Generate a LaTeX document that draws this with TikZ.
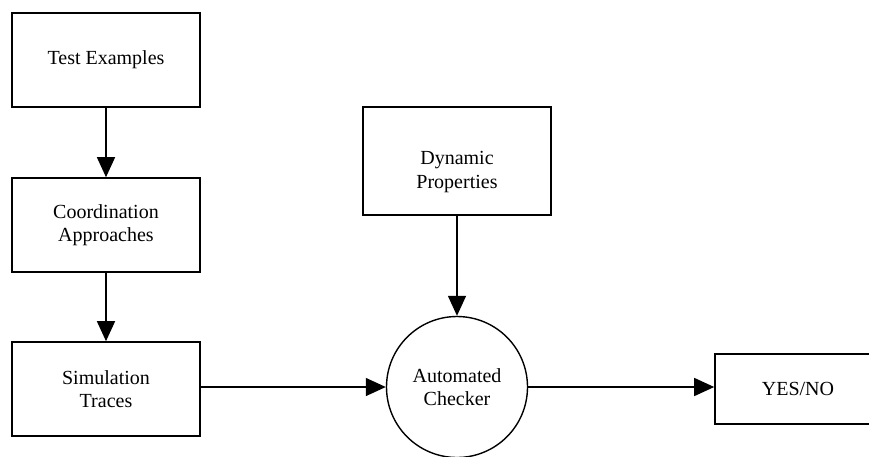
\documentclass[tikz,border=0pt]{standalone}
\usepackage{fontspec}
\setmainfont{Liberation Serif}
\usetikzlibrary{arrows.meta}
\tikzset{
  labeltext/.style={align=center, font=\fontsize{20}{23.5}\selectfont},
  blockbox/.style={draw, line width=1.6pt, rectangle, inner sep=0pt,
    minimum width=188pt, labeltext},
  checker/.style={draw, line width=1.4pt, circle, inner sep=0pt,
    minimum size=141pt, labeltext},
  flow/.style={line width=1.4pt, -{Triangle[length=20pt,width=18pt]}}
}
\begin{document}
\begin{tikzpicture}[x=1pt,y=-1pt]
  \useasboundingbox (0,0) rectangle (869,456);
  \clip (0,0) rectangle (869,456);
  \node[blockbox, minimum height=94pt] (te) at (106,60) {Test Examples};
  \node[blockbox, minimum height=94pt] (ca) at (106,225) {Coordination\\Approaches};
  \node[blockbox, minimum height=94pt] (st) at (106,389) {Simulation\\Traces};
  % property box, its caption sits a little below the middle
  \node[blockbox, minimum height=108pt] (dp) at (457,161) {};
  \node[labeltext] (dpt) at (457,172) {Dynamic\\Properties};
  \node[checker] (ac) at (457,387) {Automated\\Checker};
  \node[blockbox, minimum width=166pt, minimum height=70pt] (yn) at (798,389) {YES/NO};
  \draw[flow] (te) -- (ca);
  \draw[flow] (ca) -- (st);
  \draw[flow] (dp) -- (ac);
  \draw[flow] (st.east |- ac.west) -- (ac.west);
  \draw[flow] (ac.east) -- (yn.west |- ac.east);
\end{tikzpicture}
\end{document}
